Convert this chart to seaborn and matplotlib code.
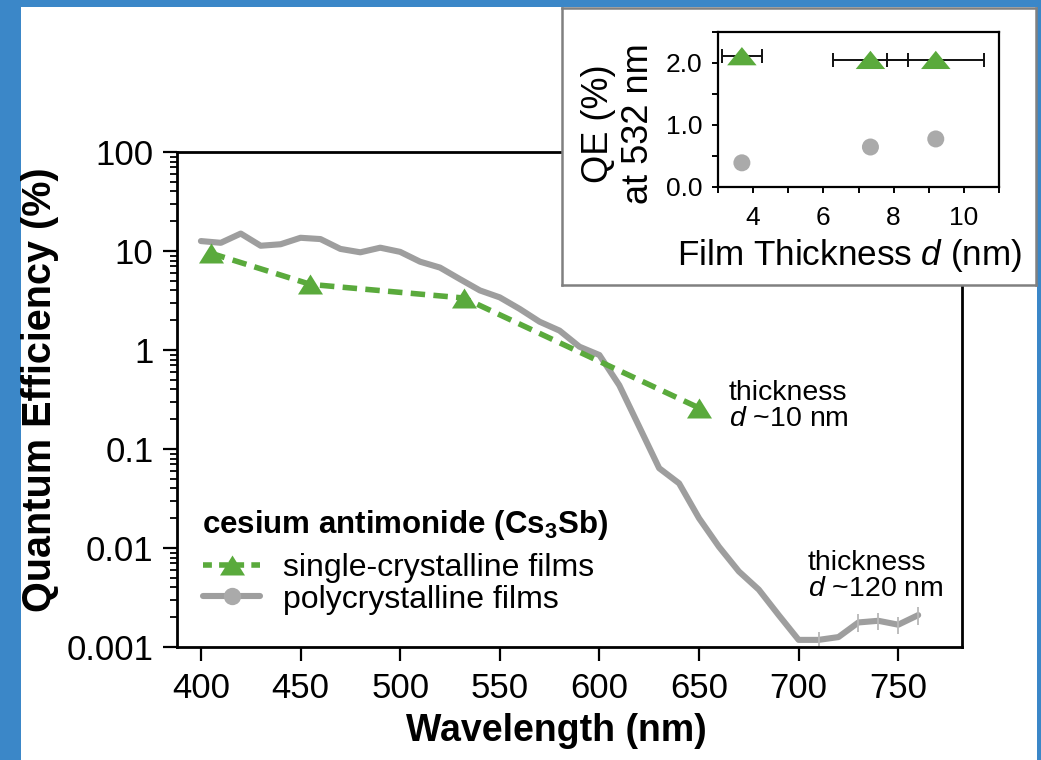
import matplotlib
matplotlib.use('Agg')
import matplotlib.pyplot as plt
import seaborn as sns
import pandas as pd
from matplotlib.lines import Line2D
from matplotlib.patches import Rectangle
from matplotlib.ticker import FixedLocator, FixedFormatter, LogLocator, NullFormatter, MultipleLocator

# ---------------- data ----------------
wl_poly = [400, 410, 420, 430, 440, 450, 460, 470, 480, 490, 500, 510, 520, 530, 540,
           550, 560, 570, 580, 590, 600, 610, 620, 630, 640, 650, 660, 670, 680, 690,
           700, 710, 720, 730, 740, 750, 760]
qe_poly = [12.6, 12.1, 15.0, 11.3, 11.7, 13.6, 13.2, 10.5, 9.7, 10.8, 9.8, 7.8, 6.8, 5.2, 4.0,
           3.4, 2.6, 1.93, 1.57, 1.08, 0.89, 0.44, 0.168, 0.064, 0.045, 0.020, 0.0103, 0.0058,
           0.0038, 0.0021, 0.00118, 0.00118, 0.00126, 0.00177, 0.00184, 0.00168, 0.0021]
wl_poly_err = [710, 730, 740, 750, 760]
qe_poly_err = [0.00118, 0.00177, 0.00184, 0.00168, 0.0021]
err_poly = [0.00024, 0.00036, 0.00037, 0.00034, 0.00042]

wl_sc = [405, 455, 532, 650]
qe_sc = [9.5, 4.6, 3.35, 0.26]

d_sc = [3.68, 7.34, 9.2]
qe532_sc = [2.11, 2.05, 2.05]
d_err_sc = [0.56, 1.08, 1.38]
d_poly = [3.68, 7.34, 9.2]
qe532_poly = [0.39, 0.645, 0.775]

x_ticks = [400, 450, 500, 550, 600, 650, 700, 750]
y_ticks = [0.001, 0.01, 0.1, 1, 10, 100]
y_ticklabels = ['0.001', '0.01', '0.1', '1', '10', '100']
inset_xticks = [4, 6, 8, 10]
inset_yticks = [0.0, 1.0, 2.0]
inset_yticklabels = ['0.0', '1.0', '2.0']

GREEN = '#5aaa3c'
GRAY = '#9e9e9e'
GRAY_PT = '#aaaaaa'
BLUE = '#3b87c8'

# ---------------- style ----------------
sns.set_theme(style='ticks')
plt.rcParams['font.family'] = ['Liberation Sans', 'DejaVu Sans']
plt.rcParams['mathtext.fontset'] = 'custom'
plt.rcParams['mathtext.rm'] = 'Liberation Sans'
plt.rcParams['mathtext.it'] = 'Liberation Sans:italic'
plt.rcParams['mathtext.bf'] = 'Liberation Sans:bold'
plt.rcParams['axes.edgecolor'] = 'black'
plt.rcParams['axes.labelcolor'] = 'black'
plt.rcParams['xtick.color'] = 'black'
plt.rcParams['ytick.color'] = 'black'
plt.rcParams['xtick.labelcolor'] = 'black'
plt.rcParams['ytick.labelcolor'] = 'black'
plt.rcParams['text.color'] = 'black'

W, H = 1041, 760
fig = plt.figure(figsize=(W / 100, H / 100), dpi=100)
fig.patch.set_facecolor(BLUE)
fig.patches.append(Rectangle((21 / W, 0), (1037 - 21) / W, (H - 7) / H,
                             transform=fig.transFigure, facecolor='white',
                             edgecolor='none', zorder=-5))

def fax(l, t, r, b):
    return [l / W, 1 - b / H, (r - l) / W, (b - t) / H]

# ---------------- main axes ----------------
ax = fig.add_axes(fax(177, 152, 962, 647))
ax.set_facecolor('white')
dash = (0, (2.6, 1.5))
tri_main = [(-1, -0.8), (1, -0.8), (0, 0.8)]
tri_inset = [(-1, -0.62), (1, -0.62), (0, 0.62)]

sns.lineplot(x=wl_poly, y=qe_poly, ax=ax, color=GRAY, lw=4.4, zorder=2)
ax.errorbar(wl_poly_err, qe_poly_err, yerr=err_poly, fmt='none',
            ecolor='#b8b8b8', elinewidth=1.3, capsize=0, zorder=2)
sns.lineplot(x=wl_sc, y=qe_sc, ax=ax, color=GREEN, lw=4.0, linestyle=dash,
             marker=tri_main, markersize=18, markeredgecolor=GREEN,
             markeredgewidth=0, zorder=3)

ax.set_yscale('log')
ax.set_xlim(388, 782)
ax.set_ylim(0.001, 100)
ax.xaxis.set_major_locator(FixedLocator(x_ticks))
ax.yaxis.set_major_locator(FixedLocator(y_ticks))
ax.yaxis.set_major_formatter(FixedFormatter(y_ticklabels))
ax.yaxis.set_minor_locator(LogLocator(base=10, subs=range(2, 10), numticks=20))
ax.yaxis.set_minor_formatter(NullFormatter())
for s in ax.spines.values():
    s.set_linewidth(2.0)
    s.set_color('black')
ax.tick_params(axis='both', which='major', direction='out', length=10, width=1.6,
               labelsize=25)
ax.tick_params(axis='x', which='major', pad=8)
ax.tick_params(axis='y', which='major', pad=7)
ax.tick_params(axis='y', which='minor', direction='out', length=5, width=1.3)
ax.tick_params(axis='x', which='minor', bottom=False)

ax.set_xlabel('Wavelength (nm)', fontsize=27, fontweight='bold')
ax.set_ylabel('Quantum Efficiency (%)', fontsize=28.5, fontweight='bold')
ax.xaxis.set_label_coords(0.483, -0.133)
ax.yaxis.set_label_coords(-0.150, 0.52)

ax.text(665, 0.171, 'thickness\n$d$ ~10 nm', fontsize=20.5, ha='left',
        va='baseline', linespacing=1.02)
ax.text(704.5, 0.00327, 'thickness\n$d$ ~120 nm', fontsize=20.5, ha='left',
        va='baseline', linespacing=1.02)

# legend title as its own text, entries as a legend
ax.text(0.0315, 0.230, 'cesium antimonide (Cs$_\\mathbf{3}$Sb)', transform=ax.transAxes,
        fontsize=22.5, fontweight='bold', ha='left', va='baseline')
handles = [
    Line2D([], [], color=GREEN, lw=4.0, linestyle=(0, (1.6, 1.3)), marker=tri_main,
           markersize=18, markeredgewidth=0),
    Line2D([], [], color=GRAY, lw=4.4, marker='o', markersize=12.5,
           markerfacecolor=GRAY_PT, markeredgewidth=0),
]
leg = ax.legend(handles, ['single-crystalline films', 'polycrystalline films'],
                loc='upper left', bbox_to_anchor=(0.033, 0.19), frameon=False,
                fontsize=23, handlelength=1.8, handletextpad=0.7,
                labelspacing=0.05, borderpad=0, borderaxespad=0)

# ---------------- inset box ----------------
box = fig.add_axes(fax(562, 8, 1036, 285))
box.set_xticks([])
box.set_yticks([])
box.set_facecolor('white')
for s in box.spines.values():
    s.set_color('#808080')
    s.set_linewidth(1.8)
box.set_zorder(4)

ins = fig.add_axes(fax(718, 32, 999, 187))
ins.set_zorder(5)
ins.set_facecolor('white')
ins.errorbar(d_sc, qe532_sc, xerr=d_err_sc, fmt='none', ecolor='#111111',
             elinewidth=1.4, capsize=5, capthick=1.4, zorder=2)
sns.scatterplot(x=d_poly, y=qe532_poly, ax=ins, color=GRAY_PT, s=150,
                edgecolor='none', zorder=3)
sns.scatterplot(x=d_sc, y=qe532_sc, ax=ins, color=GREEN, marker=tri_inset, s=450,
                edgecolor='none', zorder=4)
ins.set_xlim(3, 11)
ins.set_ylim(0, 2.5)
ins.xaxis.set_major_locator(FixedLocator(inset_xticks))
ins.xaxis.set_minor_locator(MultipleLocator(1))
ins.yaxis.set_major_locator(FixedLocator(inset_yticks))
ins.yaxis.set_major_formatter(FixedFormatter(inset_yticklabels))
ins.yaxis.set_minor_locator(MultipleLocator(0.5))
for s in ins.spines.values():
    s.set_linewidth(1.6)
    s.set_color('black')
ins.tick_params(axis='both', which='both', direction='out', length=4.5, width=1.4,
                labelsize=19)
ins.tick_params(axis='x', which='major', pad=9)
ins.tick_params(axis='y', which='major', pad=7)
ins.set_xlabel('Film Thickness $d$ (nm)', fontsize=25.3)
ins.set_ylabel('QE (%)\nat 532 nm', fontsize=26, linespacing=1.2)
ins.xaxis.set_label_coords(0.47, -0.325)
ins.yaxis.set_label_coords(-0.219, 0.41)

fig.savefig('out.png', dpi=100, facecolor=fig.get_facecolor())
